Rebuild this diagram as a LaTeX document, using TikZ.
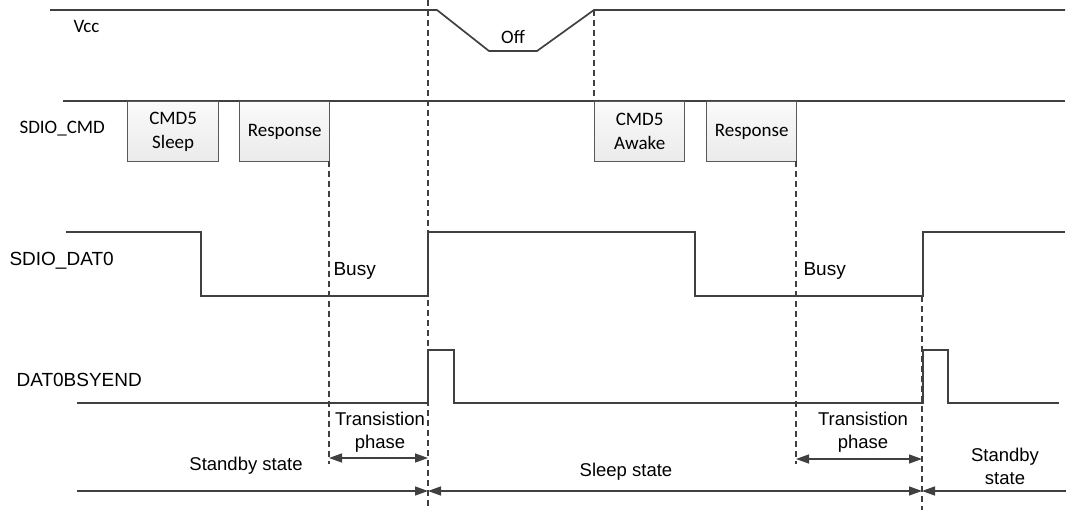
\documentclass[tikz,border=0pt]{standalone}
\usepackage{fontspec}
\setmainfont{Liberation Sans}
\newfontfamily\calibri{Carlito}
\usepackage{xcolor}
\usepackage{tikz}
\usetikzlibrary{arrows.meta, positioning, shadings}

\definecolor{wavegray}{HTML}{404040}
\definecolor{boxgray}{HTML}{595959}

\tikzset{
  wave/.style={wavegray, line width=1.7pt},
  guide/.style={wavegray, line width=1.2pt, dash pattern=on 6pt off 4pt},
  span/.style={wavegray, line width=1.4pt, -{Triangle[length=13pt,width=9pt]}},
  twospan/.style={wavegray, line width=1.4pt, {Triangle[length=13pt,width=9pt]}-{Triangle[length=13pt,width=9pt]}},
  cmdbox/.style={draw=boxgray, line width=1.4pt, top color=gray!4, bottom color=gray!16,
    minimum height=60pt, inner sep=0pt, anchor=north west, align=center,
    font=\calibri\fontsize{19}{24}\selectfont},
  sig/.style={anchor=west, font=\fontsize{19}{22}\selectfont},
  sigc/.style={anchor=west, font=\calibri\fontsize{19}{22}\selectfont},
  note/.style={align=center, font=\fontsize{18.5}{23}\selectfont}
}

\begin{document}
\begin{tikzpicture}[x=1pt, y=-1pt]
    \useasboundingbox (0,0) rectangle (1074,510);

    % Vcc
    \draw[wave] (50,10) -- (437,10) -- (489,51) -- (537,51) -- (594,10) -- (1065,10);
    \node[sigc] (vcc) at (70,26) {Vcc};
    \node[font=\calibri\fontsize{19}{22}\selectfont] (off) at (513,37) {Off};

    % SDIO_CMD
    \draw[wave] (63,101) -- (1065,101);
    \node[sigc] (cmdlabel) at (16,129) {SDIO\_CMD};
    \node[cmdbox, minimum width=91pt] (sleep) at (127,101) {CMD5\\Sleep};
    \node[cmdbox, minimum width=90pt] (resp1) at (239,101) {Response};
    \node[cmdbox, minimum width=90pt] (awake) at (594,101) {CMD5\\Awake};
    \node[cmdbox, minimum width=90pt] (resp2) at (706,101) {Response};

    % SDIO_DAT0
    \draw[wave] (66,232) -- (201,232) -- (201,296) -- (428,296) -- (428,232)
      -- (695,232) -- (695,296) -- (923,296) -- (923,232) -- (1065,232);
    \node[sig] (dat0) at (6,261) {SDIO\_DAT0};
    \node[sig] (busy1) at (330,271) {Busy};
    \node[sig] (busy2) at (800,271) {Busy};

    % DAT0BSYEND
    \draw[wave] (77,403) -- (428,403) -- (428,350) -- (454,350) -- (454,403)
      -- (923,403) -- (923,350) -- (948,350) -- (948,403) -- (1059,403);
    \node[sig] (bsyend) at (13,380) {DAT0BSYEND};

    % guide lines
    \coordinate (tA) at (329,161);
    \coordinate (tB) at (428,0);
    \coordinate (tC) at (594,10);
    \coordinate (tD) at (796,161);
    \coordinate (tE) at (922,296);
    \draw[guide] (tA) -- (tA |- 0,464);
    \draw[guide] (tB) -- (tB |- 0,510);
    \draw[guide] (tC) -- (tC |- 0,101);
    \draw[guide] (tD) -- (tD |- 0,464);
    \draw[guide] (tE) -- (tE |- 0,510);

    % transition phases
    \draw[twospan] (tA |- 0,458) -- (tB |- 0,458);
    \node[note] (trans1) at (380,432) {Transistion\\phase};
    \draw[twospan] (tD |- 0,459) -- (tE |- 0,459);
    \node[note] (trans2) at (863,432) {Transistion\\phase};

    % states
    \coordinate (sbStart) at (77,491);
    \coordinate (sbEnd) at (1066,491);
    \draw[span] (sbStart) -- (tB |- sbStart);
    \draw[twospan] (tB |- sbStart) -- (tE |- sbStart);
    \draw[span] (sbEnd) -- (tE |- sbEnd);
    \node[note] (standby1) at (246,466) {Standby state};
    \node[note] (sleepst) at (626,472) {Sleep state};
    \node[note] (standby2) at (1005,466) {Standby\\state};
\end{tikzpicture}
\end{document}
